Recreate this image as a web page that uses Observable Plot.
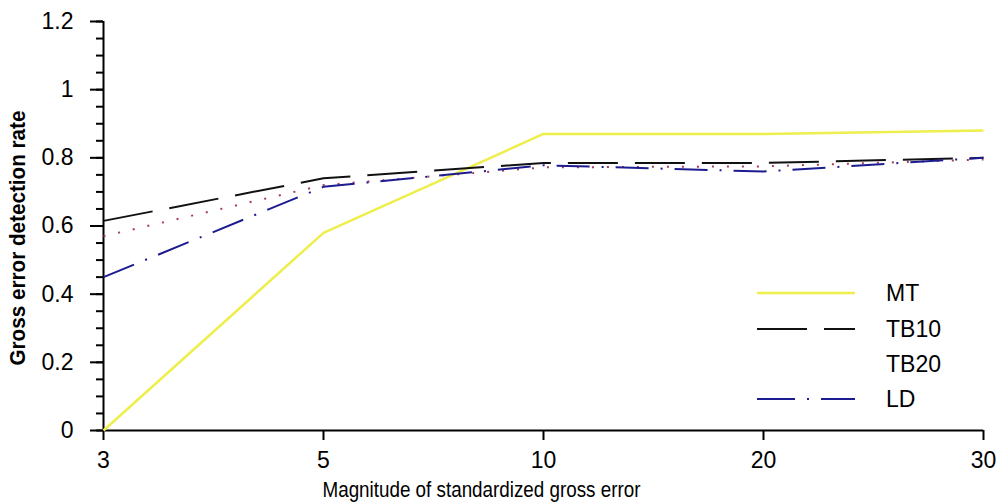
<!DOCTYPE html>
<html>
<head>
<meta charset="utf-8">
<script src="https://cdn.jsdelivr.net/npm/d3@7"></script>
<script src="https://cdn.jsdelivr.net/npm/@observablehq/plot@0.6"></script>
<style>
  html, body { margin: 0; padding: 0; background: white; }
</style>
</head>
<body>
<div id="chart"></div>
<script>
// Data
const magnitudes = [3, 5, 10, 20, 30];
const mt   = [0.00, 0.58, 0.87, 0.87, 0.88];
const tb10 = [0.615, 0.74, 0.785, 0.785, 0.80];
const tb20 = [0.57, 0.72, 0.772, 0.775, 0.795];
const ld   = [0.45, 0.715, 0.778, 0.76, 0.80];
const seriesNames = ["MT", "TB10", "TB20", "LD"];
const yTicks = [0, 0.2, 0.4, 0.6, 0.8, 1, 1.2];
const yMinor = d3.range(0, 24.5, 1).map(d => d * 0.05);
const xTitle = "Magnitude of standardized gross error";
const yTitle = "Gross error detection rate";

const styles = {
  MT:   {stroke: "#eeee4c", strokeWidth: 2.5},
  TB10: {stroke: "#111111", strokeWidth: 2, strokeDasharray: "50,17"},
  TB20: {stroke: "#a83a5a", strokeWidth: 2, strokeDasharray: "2,13"},
  LD:   {stroke: "#1c1c90", strokeWidth: 2, strokeDasharray: "33,12,2,12"}
};
const values = {MT: mt, TB10: tb10, TB20: tb20, LD: ld};
const FONT = "'Liberation Sans', Arial, sans-serif";

const chart = Plot.plot({
  width: 998,
  height: 502,
  marginLeft: 103,
  marginRight: 15,
  marginTop: 21,
  marginBottom: 72,
  style: {fontFamily: FONT, fontSize: "23px", background: "white", color: "black"},
  x: {type: "point", domain: magnitudes, padding: 0},
  y: {domain: [0, 1.2]},
  marks: [
    Plot.axisY({ticks: yMinor, tickSize: 7, text: null, strokeWidth: 2, label: null}),
    Plot.axisY({ticks: yTicks, tickSize: 13, tickPadding: 17, strokeWidth: 2, label: null, fontSize: 23,
                tickFormat: d => String(d)}),
    Plot.axisX({ticks: magnitudes, tickSize: 10, tickPadding: 11, strokeWidth: 2, label: null, fontSize: 23,
                tickFormat: d => String(d)}),
    Plot.ruleX([3], {strokeWidth: 2}),
    Plot.ruleY([0], {strokeWidth: 2}),
    ...seriesNames.map(name => Plot.line(magnitudes, {x: magnitudes, y: values[name], ...styles[name], strokeLinecap: "butt"})),
    Plot.text([xTitle], {frameAnchor: "bottom", dy: 59, dx: -62, fontSize: 22, textAnchor: "middle", lineAnchor: "middle", text: d => d}),
    Plot.text([yTitle], {frameAnchor: "left", rotate: -90, dx: -86, dy: 12, fontSize: 22, fontWeight: "bold",
                         textAnchor: "middle", lineAnchor: "middle", text: d => d})
  ]
});

document.getElementById("chart").appendChild(chart);

const svg = d3.select(chart);
svg.selectAll("text").each(function() {
  const t = d3.select(this);
  const txt = t.text();
  const fit = txt === xTitle ? 318 : txt === yTitle ? 255 : null;
  if (fit) {
    t.attr("textLength", fit).attr("lengthAdjust", "spacingAndGlyphs");
    t.selectAll("tspan").attr("textLength", fit).attr("lengthAdjust", "spacingAndGlyphs");
  }
});

// Legend (inside plot, lower right)
const legendY = {MT: 293, TB10: 329, TB20: 364, LD: 399};
const lg = svg.append("g").attr("font-family", FONT).attr("font-size", 23).attr("text-anchor", "start");
seriesNames.forEach(name => {
  if (name !== "TB20") {
    const s = styles[name];
    lg.append("line")
      .attr("x1", 757).attr("x2", 855)
      .attr("y1", legendY[name]).attr("y2", legendY[name])
      .attr("stroke", s.stroke).attr("stroke-width", s.strokeWidth)
      .attr("stroke-dasharray", name === "LD" ? "38,12,2,12" : (s.strokeDasharray || null));
  }
  lg.append("text")
    .attr("x", 886).attr("y", legendY[name])
    .attr("dy", "0.35em")
    .attr("text-anchor", "start")
    .text(name);
});
</script>
</body>
</html>
